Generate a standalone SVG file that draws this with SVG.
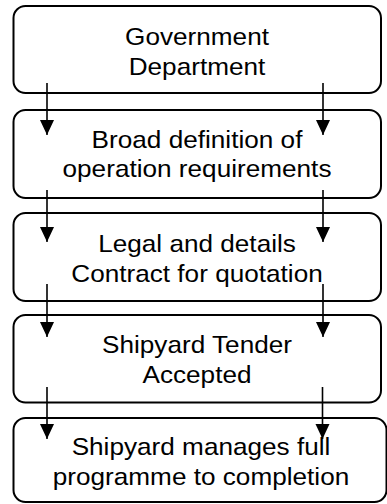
<svg xmlns="http://www.w3.org/2000/svg" width="387" height="504" viewBox="0 0 387 504">
  <defs>
    <marker id="arrow" markerUnits="userSpaceOnUse" markerWidth="14" markerHeight="16" refX="15" refY="7" orient="auto">
      <path d="M0,0 L15,7 L0,14 Z" fill="#000"/>
    </marker>
    <style>
      .box { fill: #fff; stroke: #000; stroke-width: 2; }
      .lbl { font-family: "Liberation Sans", Arial, sans-serif; font-size: 24px; fill: #000; text-anchor: middle; }
      .conn { stroke: #000; stroke-width: 1.6; fill: none; marker-end: url(#arrow); }
    </style>
  </defs>
  <rect width="387" height="504" fill="#fff"/>

  <g id="node-government">
    <rect class="box" x="13.5" y="6" width="367.5" height="87" rx="12"/>
    <g transform="translate(197,0) scale(1.09,1)">
      <text class="lbl" x="0" y="45">Government</text>
      <text class="lbl" x="0" y="75">Department</text>
    </g>
  </g>

  <g id="node-definition">
    <rect class="box" x="13.5" y="110" width="367.5" height="88" rx="12"/>
    <g transform="translate(197,0) scale(1.09,1)">
      <text class="lbl" x="0" y="148">Broad definition of</text>
      <text class="lbl" x="0" y="177">operation requirements</text>
    </g>
  </g>

  <g id="node-contract">
    <rect class="box" x="13.5" y="213" width="367.5" height="88" rx="12"/>
    <g transform="translate(197,0) scale(1.09,1)">
      <text class="lbl" x="0" y="252">Legal and details</text>
      <text class="lbl" x="0" y="282">Contract for quotation</text>
    </g>
  </g>

  <g id="node-tender">
    <rect class="box" x="13.5" y="315" width="367.5" height="87.5" rx="12"/>
    <g transform="translate(197,0) scale(1.09,1)">
      <text class="lbl" x="0" y="353">Shipyard Tender</text>
      <text class="lbl" x="0" y="383">Accepted</text>
    </g>
  </g>

  <g id="node-completion">
    <rect class="box" x="13.5" y="418" width="373" height="84" rx="12"/>
    <g transform="translate(201,0) scale(1.09,1)">
      <text class="lbl" x="0" y="455">Shipyard manages full</text>
      <text class="lbl" x="0" y="485">programme to completion</text>
    </g>
  </g>

  <g id="connectors">
    <line class="conn" x1="47" y1="83" x2="47" y2="135"/>
    <line class="conn" x1="323" y1="83" x2="323" y2="135"/>
    <line class="conn" x1="47" y1="190" x2="47" y2="242"/>
    <line class="conn" x1="323" y1="190" x2="323" y2="242"/>
    <line class="conn" x1="47" y1="284" x2="47" y2="337"/>
    <line class="conn" x1="323" y1="284" x2="323" y2="337"/>
    <line class="conn" x1="47" y1="387" x2="47" y2="439"/>
    <line class="conn" x1="322.5" y1="387" x2="322.5" y2="439"/>
  </g>
</svg>
